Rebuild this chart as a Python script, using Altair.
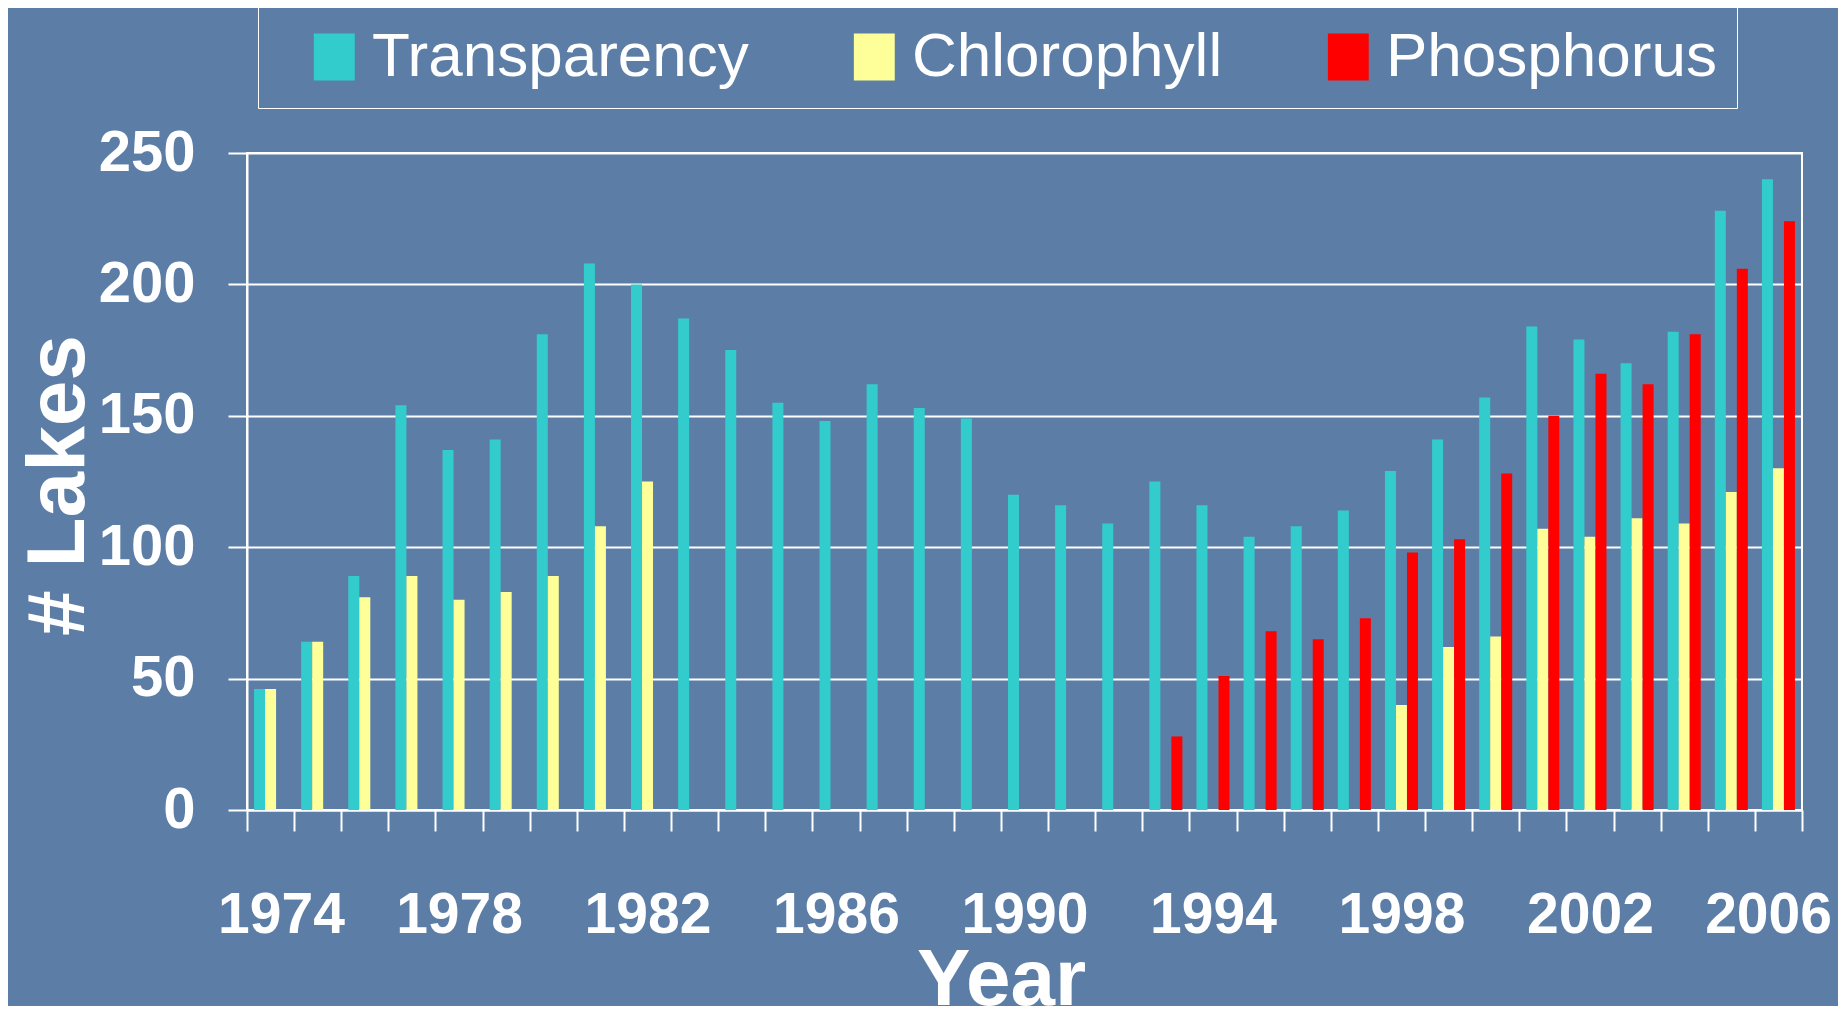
import altair as alt
import pandas as pd

years = [str(y) for y in range(1974, 2007)]
series = ["Transparency", "Chlorophyll", "Phosphorus"]
colors = ["#33CCCC", "#FFFF99", "#FF0000"]

transparency = [46, 64, 89, 154, 137, 141, 181, 208, 200, 187, 175, 155, 148, 162, 153,
                149, 120, 116, 109, 125, 116, 104, 108, 114, 129, 141, 157, 184, 179, 170,
                182, 228, 240]
chlorophyll = [46, 64, 81, 89, 80, 83, 89, 108, 125, None, None, None, None, None, None,
               None, None, None, None, None, None, None, None, None, 40, 62, 66, 107, 104,
               111, 109, 121, 130]
phosphorus = [None, None, None, None, None, None, None, None, None, None, None, None, None,
              None, None, None, None, None, None, 28, 51, 68, 65, 73, 98, 103, 128, 150, 166,
              162, 181, 206, 224]

y_ticks = [0, 50, 100, 150, 200, 250]

rows = []
for name, vals in zip(series, [transparency, chlorophyll, phosphorus]):
    for yr, v in zip(years, vals):
        if v is not None:
            rows.append({"Year": yr, "Series": name, "Lakes": v})
df = pd.DataFrame(rows)

FONT = "Liberation Sans"
BG = "#5c7ea6"

chart = alt.Chart(df).mark_bar().encode(
    x=alt.X(
        "Year:N",
        sort=years,
        scale=alt.Scale(domain=years, paddingInner=0, paddingOuter=0),
        title="Year",
        axis=alt.Axis(
            tickBand="extent",
            tickSize=21,
            tickWidth=2,
            tickColor="white",
            domainColor="white",
            domainWidth=2,
            labelAngle=0,
            labelExpr="toNumber(datum.value) % 4 == 2 ? datum.label : ''",
            labelOverlap=False,
            labelFont=FONT,
            labelFontSize=57,
            labelFontWeight="bold",
            labelColor="white",
            labelBaseline="alphabetic",
            labelPadding=101,
            labelFlush=50,
            labelFlushOffset=53,
            grid=False,
            titleFont=FONT,
            titleFontSize=80,
            titleFontWeight="bold",
            titleColor="white",
            titleBaseline="alphabetic",
            titleX=754,
            titleY=194,
        ),
    ),
    xOffset=alt.XOffset(
        "Series:N",
        sort=series,
        scale=alt.Scale(domain=series, paddingInner=0, paddingOuter=0.64),
    ),
    y=alt.Y(
        "Lakes:Q",
        scale=alt.Scale(domain=[0, 250], nice=False),
        title="# Lakes",
        axis=alt.Axis(
            values=y_ticks,
            tickSize=19,
            tickWidth=2,
            tickColor="white",
            domainColor="white",
            domainWidth=2,
            grid=True,
            gridColor="white",
            gridWidth=2,
            gridOpacity=1,
            labelFont=FONT,
            labelFontSize=58,
            labelFontWeight="bold",
            labelColor="white",
            labelPadding=33,
            titleFont=FONT,
            titleFontSize=82,
            titleFontWeight="bold",
            titleColor="white",
            titleAngle=270,
            titleAlign="center",
            titleBaseline="alphabetic",
            titleX=-164,
            titleY=332,
        ),
    ),
    color=alt.Color(
        "Series:N",
        sort=series,
        scale=alt.Scale(domain=series, range=colors),
        legend=alt.Legend(
            title=None,
            orient="none",
            legendX=11,
            legendY=-147,
            direction="horizontal",
            strokeColor="white",
            padding=20,
            symbolType="M-1.07,-1H0.67V1H-1.07Z",
            symbolSize=2209,
            symbolStrokeWidth=0,
            symbolOpacity=1,
            symbolOffset=30,
            labelFont=FONT,
            labelFontSize=62,
            labelColor="white",
            labelOffset=2,
            columnPadding=69,
            labelLimit=1000,
        ),
    ),
).properties(
    width=1555,
    height=657,
    background=BG,
    padding={"left": 239, "top": 145, "right": 36, "bottom": 196},
    autosize=alt.AutoSizeParams(type="none"),
).configure_view(
    stroke="white",
    strokeWidth=2,
)

chart.save("out.html", embed_options={"renderer": "svg", "actions": False})
